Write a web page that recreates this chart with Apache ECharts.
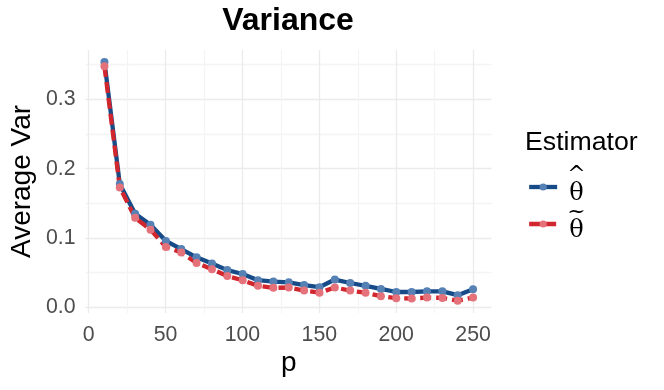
<!DOCTYPE html>
<html>
<head>
<meta charset="utf-8">
<script src="https://cdn.jsdelivr.net/npm/echarts@6/dist/echarts.min.js"></script>
<style>
  html, body { margin: 0; padding: 0; background: #fff; }
  #chart { width: 664px; height: 390px; }
</style>
</head>
<body>
<div id="chart"></div>
<script>
// p values (x axis)
var pValues = [10, 20, 30, 40, 50, 60, 70, 80, 90, 100, 110, 120, 130,
  140, 150, 160, 170, 180, 190, 200, 210, 220, 230, 240, 250]
// average variance, theta hat
var hatVar = [0.354, 0.178, 0.135, 0.119, 0.0957, 0.084, 0.072, 0.063, 0.0536, 0.048,
  0.039, 0.037, 0.036, 0.032, 0.029, 0.040, 0.035, 0.031, 0.0265, 0.022,
  0.022, 0.023, 0.023, 0.0174, 0.026]
// average variance, theta tilde
var tildeVar = [0.348, 0.173, 0.129, 0.112, 0.087, 0.079, 0.064, 0.055, 0.045, 0.039,
  0.031, 0.028, 0.0285, 0.024, 0.021, 0.0285, 0.024, 0.021, 0.016, 0.013,
  0.0126, 0.014, 0.0135, 0.0095, 0.014]
var seriesNames = ['hat', 'tilde']
var accents = { hat: '^', tilde: '~' }

var sans = "'Liberation Sans', Arial, sans-serif"
var serif = "'DejaVu Serif', 'Liberation Serif', serif"
var major = '#ebebeb'
var minor = '#f4f4f4'

function pairs (xs, ys) {
  var out = []
  for (var i = 0; i < xs.length; i++) {
    out.push([xs[i], ys[i]])
  }
  return out
}

// legend label: accent stacked over theta
var legendText = {
  fontFamily: serif,
  color: '#000',
  padding: [0, 0, 0, 5],
  rich: {
    a: { fontFamily: serif, fontSize: 22, lineHeight: 14, align: 'center', color: '#000' },
    t: { fontFamily: serif, fontSize: 24, lineHeight: 24, align: 'center', color: '#000' }
  }
}
function legendFormatter (name) {
  return '{a|' + accents[name] + '}\n{t|θ}'
}

// axis used only to carry a centred title
function titleOnly (extra) {
  var ax = {
    type: 'value',
    show: true,
    nameLocation: 'middle',
    nameTextStyle: { fontFamily: sans, fontSize: 28, color: '#000' },
    axisLine: { show: false },
    axisTick: { show: false },
    axisLabel: { show: false },
    splitLine: { show: false }
  }
  for (var k in extra) ax[k] = extra[k]
  return ax
}

var myChart = echarts.init(document.getElementById('chart'), null, { renderer: 'canvas' })
var option = {
  animation: false,
  backgroundColor: '#fff',
  title: [{
    text: 'Variance',
    left: 288,
    textAlign: 'center',
    top: 5,
    padding: 0,
    textStyle: { fontFamily: sans, fontSize: 32, fontWeight: 'bold', color: '#000' }
  }, {
    text: 'Estimator',
    left: 525,
    top: 129,
    padding: 0,
    textStyle: { fontFamily: sans, fontSize: 26.7, fontWeight: 'normal', color: '#000' }
  }],
  legend: [{
    data: [seriesNames[0]],
    left: 527,
    top: 164,
    padding: 0,
    itemWidth: 28,
    itemHeight: 9,
    lineStyle: { width: 4.3 },
    formatter: legendFormatter,
    textStyle: legendText
  }, {
    data: [seriesNames[1]],
    left: 527,
    top: 201,
    padding: 0,
    itemWidth: 28,
    itemHeight: 9,
    lineStyle: { width: 4.3 },
    formatter: legendFormatter,
    textStyle: legendText
  }],
  grid: [
    // data panel (ggplot expanded range)
    { left: 85.5, right: 172.5, top: 50, bottom: 77 },
    // vertical grid lines, x from 0 to 250
    { left: 88.6, right: 190.9, top: 50, bottom: 77 },
    // horizontal grid lines, y from 0 to 0.35
    { left: 85.5, right: 172.5, top: 64.7, bottom: 82.8 }
  ],
  xAxis: [titleOnly({
    gridIndex: 0,
    min: -2,
    max: 262,
    name: 'p',
    nameGap: 36
  }), {
    gridIndex: 1,
    type: 'value',
    min: 0,
    max: 250,
    interval: 25,
    axisLine: { show: false },
    axisTick: { show: false },
    axisLabel: {
      margin: 12,
      fontFamily: sans,
      fontSize: 21.3,
      color: '#4d4d4d',
      formatter: function (v) {
        return v % 50 === 0 ? String(v) : ''
      }
    },
    splitLine: { show: true, lineStyle: { width: 1.3, color: [major, minor] } }
  }, {
    gridIndex: 2,
    type: 'value',
    min: 0,
    max: 1,
    show: false
  }],
  yAxis: [titleOnly({
    gridIndex: 0,
    min: -0.0083,
    max: 0.3713,
    name: 'Average Var',
    nameRotate: 90,
    nameGap: 50
  }), {
    gridIndex: 1,
    type: 'value',
    min: 0,
    max: 1,
    show: false
  }, {
    gridIndex: 2,
    type: 'value',
    min: 0,
    max: 0.35,
    interval: 0.05,
    axisLine: { show: false },
    axisTick: { show: false },
    axisLabel: {
      margin: 10,
      fontFamily: sans,
      fontSize: 21.3,
      color: '#4d4d4d',
      formatter: function (v) {
        var t = v * 10
        return Math.abs(t - Math.round(t)) < 1e-6 ? v.toFixed(1) : ''
      }
    },
    splitLine: { show: true, lineStyle: { width: 1.3, color: [major, minor] } }
  }],
  series: [{
    name: seriesNames[0],
    type: 'line',
    xAxisIndex: 0,
    yAxisIndex: 0,
    data: pairs(pValues, hatVar),
    symbol: 'circle',
    symbolSize: 8,
    clip: false,
    lineStyle: { color: '#174b88', width: 4.3 },
    itemStyle: { color: '#5581b5' }
  }, {
    name: seriesNames[1],
    type: 'line',
    xAxisIndex: 0,
    yAxisIndex: 0,
    data: pairs(pValues, tildeVar),
    symbol: 'circle',
    symbolSize: 8,
    clip: false,
    lineStyle: { color: '#d1262d', width: 4.3, type: [11, 5] },
    itemStyle: { color: '#e5727a' }
  }]
}
myChart.setOption(option)
</script>
</body>
</html>
